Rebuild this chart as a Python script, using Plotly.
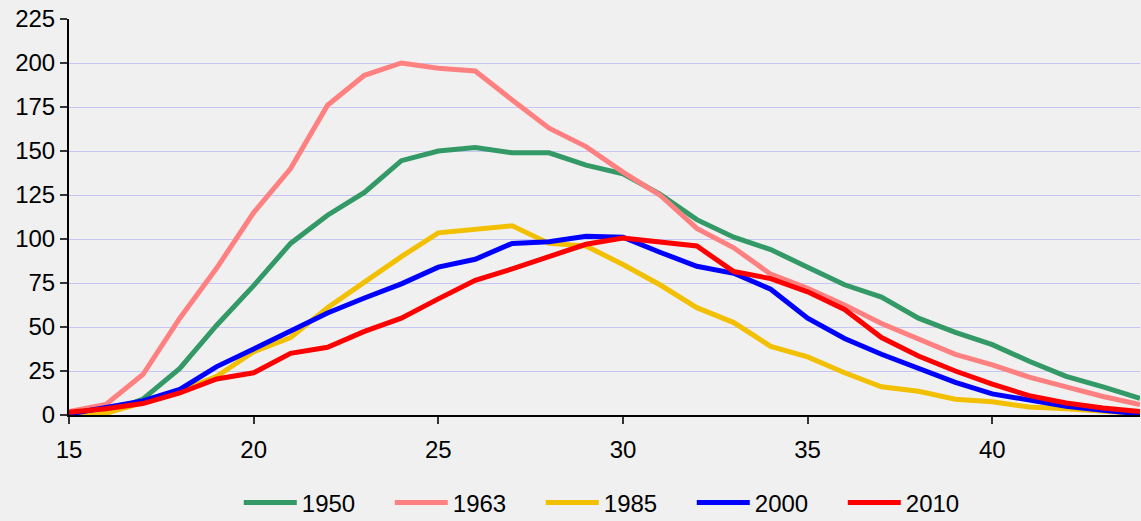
import plotly.graph_objects as go

ages = list(range(15, 45))

series_names = ["1950", "1963", "1985", "2000", "2010"]

v1950 = [0.5, 1, 9, 26.5, 51, 73.5, 97.5, 113.5, 126.5, 144.5, 150, 152, 149, 149, 142, 137,
         125.5, 111, 101, 94, 84, 74, 67, 55, 47, 40, 30.5, 22, 16, 9.5]
v1963 = [2, 6, 23, 55, 83.5, 115, 140, 176, 193, 200, 197, 195.5, 179, 163, 152.5, 138,
         125, 106, 95, 80, 72, 62.5, 52, 43.5, 34.5, 28.5, 21.5, 16, 10.5, 6]
v1985 = [0, 1, 7, 13.5, 22, 36, 44, 61, 75.5, 90, 103.5, 105.5, 107.5, 97.5, 96, 85.5,
         74, 61, 52.5, 39, 33, 24, 16, 13.5, 9, 7.5, 4.5, 3.5, 2.2, 0.8]
v2000 = [0.5, 4, 8, 14.5, 27.5, 37.5, 47.5, 58, 66.5, 74.5, 84, 88.5, 97.5, 98.5, 101.5, 101,
         92.5, 84.5, 80.5, 71.5, 55, 43.5, 34.5, 26.5, 18.5, 12, 8.5, 5, 2.7, 0.6]
v2010 = [1.5, 3.5, 6.5, 12.5, 20.5, 24, 35, 38.5, 47.5, 55, 66, 76.5, 83, 90, 97, 100.5,
         98.5, 96, 81.5, 77.5, 70, 60, 44, 33.5, 25, 17.5, 11, 6.8, 4, 2]

colors = ["#339966", "#FF8080", "#F2C000", "#0000FF", "#FF0000"]
values = [v1950, v1963, v1985, v2000, v2010]

y_ticks = list(range(0, 226, 25))
x_ticks = [15, 20, 25, 30, 35, 40]

fig = go.Figure()
for name, vals, col in zip(series_names, values, colors):
    fig.add_trace(go.Scatter(x=ages, y=vals, mode="lines", name=name,
                             line=dict(color=col, width=5)))

font_family = "Liberation Sans, Arial, sans-serif"

fig.update_layout(
    width=1141, height=521,
    margin=dict(l=69, r=1, t=19, b=106, autoexpand=False),
    paper_bgcolor="#EFF0EF",
    plot_bgcolor="#EFF0EF",
    font=dict(family=font_family, size=24, color="#000000"),
    showlegend=True,
    legend=dict(orientation="h", x=0.511, xanchor="center", y=-0.222, yanchor="middle",
                entrywidth=83, entrywidthmode="pixels", itemwidth=53,
                font=dict(size=24, family=font_family), bgcolor="rgba(0,0,0,0)"),
)
fig.update_xaxes(range=[15, 44], tickvals=x_ticks, ticktext=[str(t) for t in x_ticks],
                 showgrid=False, zeroline=False, showline=True, linecolor="#000000", linewidth=2,
                 ticks="outside", ticklen=7, tickcolor="#333333", tickwidth=1.5,
                 ticklabelstandoff=5, tickfont=dict(size=24))
fig.update_yaxes(range=[0, 225], tickvals=y_ticks, ticktext=[str(t) for t in y_ticks],
                 showgrid=True, gridcolor="#C6C6F4", gridwidth=1, zeroline=False,
                 showline=True, linecolor="#000000", linewidth=2,
                 ticks="outside", ticklen=7, tickcolor="#333333", tickwidth=1.5,
                 ticklabelstandoff=0, tickfont=dict(size=24))

fig.write_html("out.html", config={"displayModeBar": False},
               post_script="document.body.style.margin='0px';document.body.style.background='#EFF0EF';")
